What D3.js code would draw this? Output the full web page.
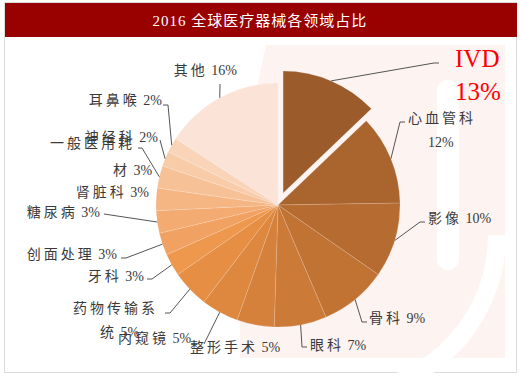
<!DOCTYPE html>
<html>
<head>
<meta charset="utf-8">
<script src="https://cdn.jsdelivr.net/npm/d3@7"></script>
<style>
    body { margin: 0; background: #fff; }
    text { font-family: "Liberation Serif", "Noto Sans CJK SC", serif; }
</style>
</head>
<body>
<script>
    // Data
    let title = "2016 全球医疗器械各领域占比";
    let fields = ["IVD", "心血管科", "影像", "骨科", "眼科", "整形手术", "内窥镜", "药物传输系统",
        "牙科", "创面处理", "糖尿病", "肾脏科", "一般医用耗材", "神经科", "耳鼻喉", "其他"];
    let shares = [13, 12, 10, 9, 7, 5, 5, 5, 3, 3, 3, 3, 3, 2, 2, 16];
    let colors = ["#9b5b2a", "#aa642e", "#b66b31", "#c17334", "#cb7a38", "#d5813c", "#dd873f", "#e68e44",
        "#ee984e", "#f1a161", "#f3ab72", "#f5b684", "#f7c197", "#f8cba9", "#f9d4b9", "#fbe3d8"];

    // label layout: text lines, anchor, x, y of first line, elbow of leader (null = no leader)
    let labelLayout = [
        { lines: ["IVD", "13%"], anchor: "start", x: 455, y: 67, dy: 33, elbow: [434, 63], tail: 5, big: true },
        { lines: ["心血管科", "12%"], anchor: "start", x: 408, y: 123, dy: 24, elbow: [400, 122], tail: 5, dx2: 20 },
        { lines: ["影像 10%"], anchor: "start", x: 428, y: 223, elbow: [420, 222], tail: 5 },
        { lines: ["骨科 9%"], anchor: "start", x: 369, y: 323, elbow: [362, 322], tail: 5 },
        { lines: ["眼科 7%"], anchor: "start", x: 310, y: 350, elbow: [302, 347], tail: 5 },
        { lines: ["整形手术 5%"], anchor: "start", x: 190, y: 352, elbow: null },
        { lines: ["内窥镜 5%"], anchor: "start", x: 118, y: 343, elbow: [204, 344], tail: 0 },
        { lines: ["药物传输系", "统 5%"], anchor: "end", x: 158, y: 313, dy: 24, elbow: [170, 313], tail: -5, x2: 100 },
        { lines: ["牙科 3%"], anchor: "end", x: 144, y: 281, elbow: [152, 279], tail: -5 },
        { lines: ["创面处理 3%"], anchor: "end", x: 117, y: 259, elbow: [126, 258], tail: -5 },
        { lines: ["糖尿病 3%"], anchor: "end", x: 100, y: 217, elbow: [104, 214], tail: 0 },
        { lines: ["肾脏科 3%"], anchor: "end", x: 149, y: 197, elbow: null },
        { lines: ["一般医用耗", "材 3%"], anchor: "end", x: 135, y: 148, dy: 27, elbow: [142, 148], tail: -4, x2: 113 },
        { lines: ["神经科 2%"], anchor: "end", x: 158, y: 142, elbow: [160, 140], tail: 0 },
        { lines: ["耳鼻喉 2%"], anchor: "end", x: 162, y: 105, elbow: [168, 105], tail: -5 },
        { lines: ["其他 16%"], anchor: "end", x: 237, y: 75, elbow: [220, 84], tail: 0 }
    ];

    let width = 520, height = 376;
    let cx = 278, cy = 205, radius = 122, explode = 13;

    let svg = d3.select("body")
        .append("svg")
        .attr("width", width)
        .attr("height", height);

    // Frame
    svg.append("rect")
        .attr("x", 4.5).attr("y", 2.5)
        .attr("width", 512).attr("height", 370)
        .attr("fill", "#fff")
        .attr("stroke", "#dcdcdc");

    // faint watermark behind the pie
    let wm = svg.append("g");
    wm.append("rect")
        .attr("x", 240).attr("y", 45)
        .attr("width", 265).attr("height", 313)
        .attr("fill", "#fdf3f0");
    wm.append("path")
        .attr("d", "M240,45 L266,45 L246,140 L240,140 Z")
        .attr("fill", "#fff");
    wm.append("path")
        .attr("d", d3.arc()({ innerRadius: 150, outerRadius: 168, startAngle: Math.PI * 0.5, endAngle: Math.PI * 1.05 }))
        .attr("transform", `translate(${cx + 60}, ${cy + 30})`)
        .attr("fill", "#fff");
    wm.append("rect")
        .attr("x", 437).attr("y", 80)
        .attr("width", 22).attr("height", 190)
        .attr("rx", 11)
        .attr("fill", "#fff");

    // Title bar
    svg.append("rect")
        .attr("x", 5).attr("y", 3)
        .attr("width", 512).attr("height", 34)
        .attr("fill", "#990000");
    svg.append("text")
        .attr("x", 260).attr("y", 26)
        .attr("text-anchor", "middle")
        .attr("fill", "#fff")
        .attr("font-size", 15)
        .attr("letter-spacing", 1)
        .text(title);

    // Pie
    let pie = d3.pie().sort(null).value((d) => d);
    let arcs = pie(shares);
    let arc = d3.arc().innerRadius(0).outerRadius(radius);

    let offsetOf = (d, i) => {
        if (i !== 0) return [0, 0];
        let mid = (d.startAngle + d.endAngle) / 2;
        return [Math.sin(mid) * explode, -Math.cos(mid) * explode];
    };

    let g = svg.append("g").attr("transform", `translate(${cx}, ${cy})`);

    g.selectAll("path")
        .data(arcs)
        .enter()
        .append("path")
        .attr("d", arc)
        .attr("transform", (d, i) => `translate(${offsetOf(d, i)})`)
        .attr("fill", (d, i) => colors[i])
        .attr("stroke", "#fff")
        .attr("stroke-opacity", 0.25)
        .attr("stroke-width", 0.6);

    // Leaders
    let leaders = svg.append("g")
        .attr("fill", "none")
        .attr("stroke", "#555")
        .attr("stroke-width", 1);

    arcs.forEach((d, i) => {
        let lay = labelLayout[i];
        if (!lay.elbow) return;
        let mid = (d.startAngle + d.endAngle) / 2;
        let off = offsetOf(d, i);
        let p0 = [cx + off[0] + Math.sin(mid) * radius, cy + off[1] - Math.cos(mid) * radius];
        let pts = [p0, lay.elbow];
        if (lay.tail) pts.push([lay.elbow[0] + lay.tail, lay.elbow[1]]);
        leaders.append("path").attr("d", d3.line()(pts));
    });

    // Labels: CJK part spaced out, numbers kept tight
    let labels = svg.append("g");
    labelLayout.forEach((lay, i) => {
        lay.lines.forEach((line, k) => {
            let x = lay.x;
            let anchor = lay.anchor;
            if (k > 0 && lay.x2 !== undefined) { x = lay.x2; anchor = "start"; }
            if (k > 0 && lay.dx2 !== undefined) x = lay.x + lay.dx2;
            let t = labels.append("text")
                .attr("x", x)
                .attr("y", lay.y + k * (lay.dy || 0))
                .attr("text-anchor", anchor)
                .attr("fill", lay.big ? "#ff0000" : "#3a3a3a")
                .attr("font-size", lay.big ? 25 : 14);
            let m = line.match(/^([^\s\d]*)(\s?[\d%]*)$/);
            let head = m ? m[1] : line, tail = m ? m[2] : "";
            if (head) t.append("tspan").attr("letter-spacing", lay.big ? 0 : 3).text(head);
            if (tail) t.append("tspan").attr("letter-spacing", 0).text((head ? "\u00a0" : "") + tail.trim());
        });
    });
</script>
</body>
</html>
